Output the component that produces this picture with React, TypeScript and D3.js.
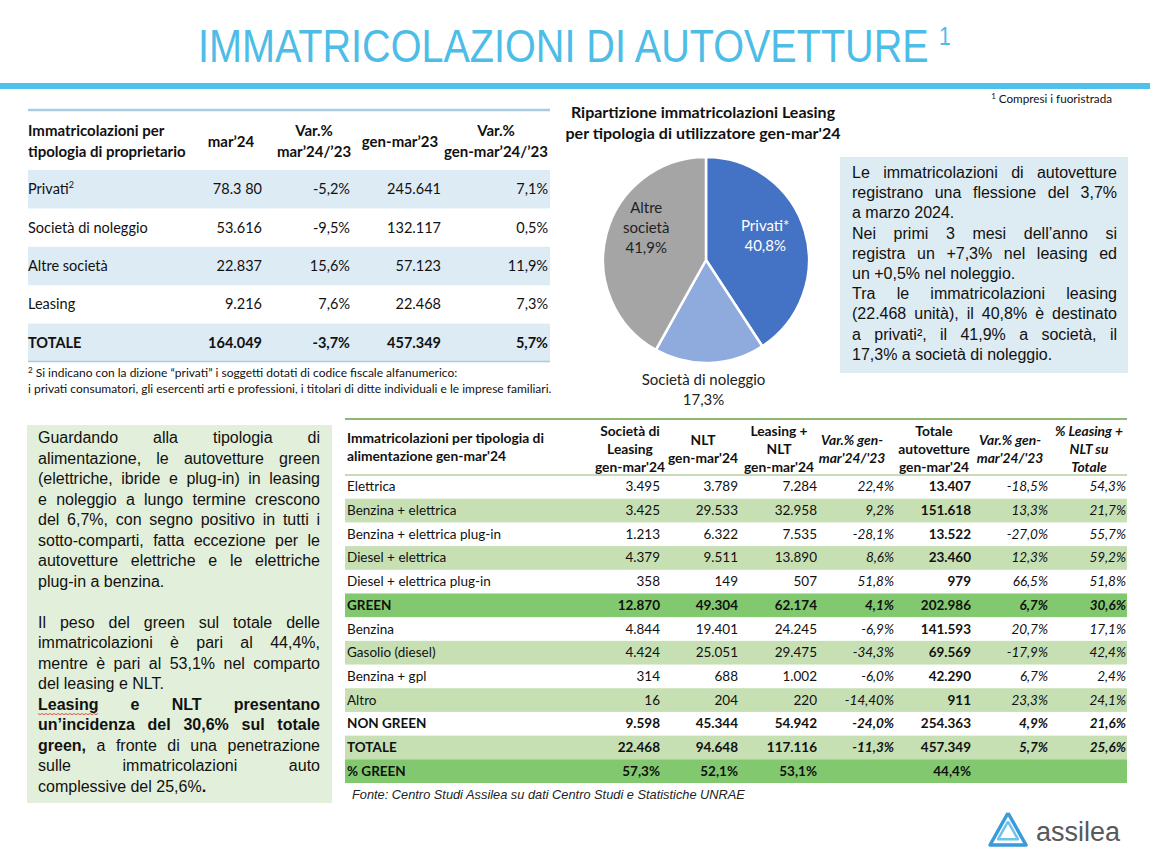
import React from "react";
import * as d3 from "d3";

const W = 1150;
const H = 856;

const titleText = "IMMATRICOLAZIONI DI AUTOVETTURE";

// ---------- Top table: by owner type ----------
const ownerCategories = ["Privati", "Società di noleggio", "Altre società", "Leasing", "TOTALE"];
const ownerMar24 = ["78.3 80", "53.616", "22.837", "9.216", "164.049"];
const ownerVarMar = ["-5,2%", "-9,5%", "15,6%", "7,6%", "-3,7%"];
const ownerGenMar23 = ["245.641", "132.117", "57.123", "22.468", "457.349"];
const ownerVarGenMar = ["7,1%", "0,5%", "11,9%", "7,3%", "5,7%"];
const ownerHeaders = [["mar’24"], ["Var.%", "mar’24/’23"], ["gen-mar’23"], ["Var.%", "gen-mar’24/’23"]];

// ---------- Pie ----------
const pieLabels = [["Privati*"], ["Società di noleggio"], ["Altre", "società"]];
const pieValues = [40.8, 17.3, 41.9];
const pieValueLabels = ["40,8%", "17,3%", "41,9%"];
const pieColors = ["#4472C4", "#8FAADC", "#A5A5A5"];

// ---------- Bottom table: by fuel ----------
const fuelCategories = [
  "Elettrica", "Benzina + elettrica", "Benzina + elettrica plug-in", "Diesel + elettrica",
  "Diesel + elettrica plug-in", "GREEN", "Benzina", "Gasolio (diesel)", "Benzina + gpl",
  "Altro", "NON GREEN", "TOTALE", "% GREEN",
];
const fuelLeasing = ["3.495", "3.425", "1.213", "4.379", "358", "12.870", "4.844", "4.424", "314", "16", "9.598", "22.468", "57,3%"];
const fuelNLT = ["3.789", "29.533", "6.322", "9.511", "149", "49.304", "19.401", "25.051", "688", "204", "45.344", "94.648", "52,1%"];
const fuelLeasingNLT = ["7.284", "32.958", "7.535", "13.890", "507", "62.174", "24.245", "29.475", "1.002", "220", "54.942", "117.116", "53,1%"];
const fuelVarLN = ["22,4%", "9,2%", "-28,1%", "8,6%", "51,8%", "4,1%", "-6,9%", "-34,3%", "-6,0%", "-14,40%", "-24,0%", "-11,3%", ""];
const fuelTotal = ["13.407", "151.618", "13.522", "23.460", "979", "202.986", "141.593", "69.569", "42.290", "911", "254.363", "457.349", "44,4%"];
const fuelVarTotal = ["-18,5%", "13,3%", "-27,0%", "12,3%", "66,5%", "6,7%", "20,7%", "-17,9%", "6,7%", "23,3%", "4,9%", "5,7%", ""];
const fuelShare = ["54,3%", "21,7%", "55,7%", "59,2%", "51,8%", "30,6%", "17,1%", "42,4%", "2,4%", "24,1%", "21,6%", "25,6%", ""];
const fuelHeaders = [
  ["Società di", "Leasing", "gen-mar'24"],
  ["NLT", "gen-mar'24"],
  ["Leasing +", "NLT", "gen-mar'24"],
  ["Var.% gen-", "mar'24/'23"],
  ["Totale", "autovetture", "gen-mar'24"],
  ["Var.% gen-", "mar'24/'23"],
  ["% Leasing +", "NLT su", "Totale"],
];
const fuelBandLight = ["Benzina + elettrica", "Diesel + elettrica", "Gasolio (diesel)", "Altro", "TOTALE"];
const fuelBandDark = ["GREEN", "% GREEN"];
const fuelBoldRows = ["GREEN", "NON GREEN", "TOTALE", "% GREEN"];

// ---------- Text boxes ----------
const rightBoxLines = [
  ["Le immatricolazioni di autovetture", true],
  ["registrano una flessione del 3,7%", true],
  ["a marzo 2024.", false],
  ["Nei primi 3 mesi dell’anno si", true],
  ["registra un +7,3% nel leasing ed", true],
  ["un +0,5% nel noleggio.", false],
  ["Tra le immatricolazioni leasing", true],
  ["(22.468 unità), il 40,8% è destinato", true],
  ["a privati², il 41,9% a società, il", true],
  ["17,3% a società di noleggio.", false],
];
const leftBoxLines = [
  ["Guardando alla tipologia di", true],
  ["alimentazione, le autovetture green", true],
  ["(elettriche, ibride e plug-in) in leasing", true],
  ["e noleggio a lungo termine crescono", true],
  ["del 6,7%, con segno positivo in tutti i", true],
  ["sotto-comparti, fatta eccezione per le", true],
  ["autovetture elettriche e le elettriche", true],
  ["plug-in a  benzina.", false],
  ["", false],
  ["Il peso del green sul totale delle", true],
  ["immatricolazioni è pari al 44,4%,", true],
  ["mentre è pari al 53,1% nel comparto", true],
  ["del leasing e NLT.", false],
  ["**Leasing e NLT presentano**", true],
  ["**un’incidenza del 30,6% sul totale**", true],
  ["**green,** a fronte di una penetrazione", true],
  ["sulle immatricolazioni auto", true],
  ["complessive del 25,6%**.**", false],
];

const SANS = "'Liberation Sans', Arial, Helvetica, sans-serif";
const CAL = "Lato, Carlito, Calibri, 'Open Sans', sans-serif";

let _ctx: CanvasRenderingContext2D | null = null;
function measure(t: string, bold: boolean, size: number) {
  if (!_ctx) _ctx = document.createElement("canvas").getContext("2d");
  if (!_ctx) return t.length * size * 0.5;
  _ctx.font = `${bold ? "bold " : ""}${size}px 'Liberation Sans', Arial, sans-serif`;
  return _ctx.measureText(t).width;
}

type Word = { t: string; b: boolean; glue?: boolean };
function parseLine(s: string): Word[] {
  const words: Word[] = [];
  let bold = false;
  s.split(" ").forEach((raw) => {
    if (raw === "") return;
    let t = raw;
    let wb = bold;
    if (t.startsWith("**")) { t = t.slice(2); wb = true; bold = true; }
    if (t.endsWith("**") && !t.slice(0, -2).includes("**")) { t = t.slice(0, -2); bold = false; words.push({ t, b: wb }); return; }
    if (t.includes("**")) {
      const parts = t.split("**");
      parts.forEach((p, i) => { if (p !== "") words.push({ t: p, b: i % 2 === 1 ? true : wb, glue: i > 0 }); });
      return;
    }
    words.push({ t, b: wb });
  });
  return words;
}

function Justified({ lines, x, width, y0, lh, size, prefix }: any) {
  const out: any[] = [];
  lines.forEach(([s, justify]: [string, boolean], i: number) => {
    const y = y0 + i * lh;
    const words = parseLine(s);
    if (!words.length) return;
    const groups: Word[][] = [];
    words.forEach((w) => {
      if (w.glue && groups.length) groups[groups.length - 1].push(w);
      else groups.push([w]);
    });
    const gw = groups.map((g) => d3.sum(g, (w) => measure(w.t, w.b, size)));
    const sum = d3.sum(gw);
    const space = measure(" ", false, size);
    const gap = justify && groups.length > 1 ? (width - sum) / (groups.length - 1) : space;
    let cx = x;
    groups.forEach((g, j) => {
      let px = cx;
      g.forEach((w, k) => {
        out.push(
          <text key={`${prefix}-${i}-${j}-${k}`} x={px} y={y} fontFamily={SANS} fontSize={size}
            fontWeight={w.b ? 700 : 400} fill="#111">{w.t}</text>
        );
        if (prefix === "L" && i === 13 && j === 0) {
          const ww = measure(w.t, true, size);
          const pts: string[] = [];
          for (let q = 0; q <= ww; q += 2) pts.push(`${px + q},${y + 4 + (Math.round(q / 2) % 2 ? 1.2 : 0)}`);
          out.push(<polyline key={`wave-${i}`} points={pts.join(" ")} fill="none" stroke="#E03030" strokeWidth={0.8} />);
        }
        px += measure(w.t, w.b, size);
      });
      cx += gw[j] + gap;
    });
  });
  return <g>{out}</g>;
}

function OwnerTable() {
  const y = d3.scaleBand<string>().domain(ownerCategories).range([170, 362]);
  const colRight = [262, 350, 441, 548];
  const colCenter = [231, 314, 400, 496];
  const cols = [ownerMar24, ownerVarMar, ownerGenMar23, ownerVarGenMar];
  const fs = 14.5;
  return (
    <g fontFamily={CAL} fill="#111">
      {ownerCategories.map((c, i) =>
        i % 2 === 0 ? (
          <rect key={c} x={28} y={y(c)!} width={522} height={y.bandwidth()} fill="#DDEBF5" />
        ) : null
      )}
      <line x1={28} x2={550} y1={110} y2={110} stroke="#A9CDE0" strokeWidth={2.5} />
      <line x1={28} x2={550} y1={361.5} y2={361.5} stroke="#A9CDE0" strokeWidth={1.5} />
      <text x={28} y={136} fontSize={15} fontWeight={700}>Immatricolazioni per</text>
      <text x={28} y={157} fontSize={15} fontWeight={700}>tipologia di proprietario</text>
      {ownerHeaders.map((h, j) =>
        h.map((t, k) => (
          <text key={`h${j}${k}`} x={colCenter[j]} y={h.length === 1 ? 147 : 136 + k * 21}
            fontSize={15} fontWeight={700} textAnchor="middle">{t}</text>
        ))
      )}
      {ownerCategories.map((c, i) => {
        const ty = y(c)! + y.bandwidth() / 2 + 5;
        const bold = c === "TOTALE";
        return (
          <g key={c} fontWeight={bold ? 700 : 400}>
            <text x={28} y={ty} fontSize={fs}>
              {c}
              {c === "Privati" ? <tspan fontSize={9} dy={-6}>2</tspan> : null}
            </text>
            {cols.map((col, j) => (
              <text key={j} x={colRight[j]} y={ty} fontSize={fs} textAnchor="end">{col[i]}</text>
            ))}
          </g>
        );
      })}
      <text x={28} y={377} fontSize={12}>
        <tspan fontSize={8} dy={-4}>2</tspan>
        <tspan dy={4}> Si indicano con la dizione “privati” i soggetti dotati di codice fiscale alfanumerico:</tspan>
      </text>
      <text x={28} y={393} fontSize={12}>
        i privati consumatori, gli esercenti arti e professioni, i titolari di ditte individuali e le imprese familiari.
      </text>
    </g>
  );
}

function LeasingPie() {
  const cx = 706, cy = 260, r = 103;
  const pie = d3.pie<number>().sort(null).value((d) => d)(pieValues);
  const arc = d3.arc<d3.PieArcDatum<number>>().innerRadius(0).outerRadius(r);
  const lab = d3.arc<d3.PieArcDatum<number>>().innerRadius(r * 0.6).outerRadius(r * 0.6);
  const outLab = d3.arc<d3.PieArcDatum<number>>().innerRadius(r + 27).outerRadius(r + 27);
  const labelDy = [-6, 0, -16];
  return (
    <g fontFamily={CAL}>
      <text x={703} y={118} fontSize={16} fontWeight={700} textAnchor="middle" fill="#111">
        Ripartizione immatricolazioni Leasing
      </text>
      <text x={703} y={139} fontSize={16} fontWeight={700} textAnchor="middle" fill="#111">
        per tipologia di utilizzatore gen-mar'24
      </text>
      <g transform={`translate(${cx},${cy})`}>
        {pie.map((p, i) => (
          <path key={i} d={arc(p)!} fill={pieColors[i]} stroke="#fff" strokeWidth={2.5} />
        ))}
        {pie.map((p, i) => {
          const outside = i === 1;
          const [lx, ly0] = outside ? outLab.centroid(p) : lab.centroid(p);
          const lines = [...pieLabels[i], pieValueLabels[i]];
          const ly = ly0 + labelDy[i] - ((lines.length - 1) * 20) / 2;
          return (
            <g key={`l${i}`}>
              {lines.map((t, k) => (
                <text key={k} x={outside ? lx - 7 : lx} y={ly + k * 20 + 5} fontSize={15} textAnchor="middle"
                  fill={i === 0 ? "#fff" : "#222"}>{t}</text>
              ))}
            </g>
          );
        })}
      </g>
    </g>
  );
}

function FuelTable() {
  const y = d3.scaleBand<string>().domain(fuelCategories).range([475, 783]);
  const colRight = [660, 738, 817, 894, 971, 1048, 1126];
  const colCenter = [630, 703, 779, 852, 934, 1010, 1089];
  const cols = [fuelLeasing, fuelNLT, fuelLeasingNLT, fuelVarLN, fuelTotal, fuelVarTotal, fuelShare];
  const italicCols = [3, 5, 6];
  const fs = 13.5;
  const x0 = 345, x1 = 1127;
  return (
    <g fontFamily={CAL} fill="#111">
      {fuelCategories.map((c) => {
        const fill = fuelBandDark.includes(c) ? "#82C86F" : fuelBandLight.includes(c) ? "#C6E0B4" : null;
        return fill ? <rect key={c} x={x0} y={y(c)!} width={x1 - x0} height={y.bandwidth()} fill={fill} /> : null;
      })}
      <line x1={x0} x2={x1} y1={419} y2={419} stroke="#8DB872" strokeWidth={2} />
      <line x1={x0} x2={x1} y1={475} y2={475} stroke="#8DB872" strokeWidth={1} />
      <text x={347} y={443} fontSize={13.8} fontWeight={700}>Immatricolazioni per tipologia di</text>
      <text x={347} y={461} fontSize={13.8} fontWeight={700}>alimentazione gen-mar'24</text>
      {fuelHeaders.map((h, j) =>
        h.map((t, k) => (
          <text key={`fh${j}${k}`} x={colCenter[j]} y={(h.length === 3 ? 436 : 445) + k * 18} fontSize={13.8}
            fontWeight={700} fontStyle={italicCols.includes(j) ? "italic" : "normal"} textAnchor="middle">{t}</text>
        ))
      )}
      {fuelCategories.map((c, i) => {
        const ty = y(c)! + y.bandwidth() / 2 + 4.5;
        const bold = fuelBoldRows.includes(c);
        return (
          <g key={c}>
            <text x={347} y={ty} fontSize={fs} fontWeight={bold ? 700 : 400}>{c}</text>
            {cols.map((col, j) => (
              <text key={j} x={colRight[j]} y={ty} fontSize={fs} textAnchor="end"
                fontWeight={bold || j === 4 ? 700 : 400}
                fontStyle={italicCols.includes(j) && c !== "% GREEN" ? "italic" : "normal"}>{col[i]}</text>
            ))}
          </g>
        );
      })}
      <text x={352} y={799} fontFamily={SANS} fontSize={12.8} fontStyle="italic" fill="#222">
        Fonte: Centro Studi Assilea su dati Centro Studi e Statistiche UNRAE
      </text>
    </g>
  );
}

function Logo() {
  const tri = (s: number) => {
    const cx = 1008, cy = 832;
    return d3.line()([
      [cx, cy - 19 * s],
      [cx + 18 * s, cy + 13 * s],
      [cx - 18 * s, cy + 13 * s],
      [cx, cy - 19 * s],
    ])!;
  };
  return (
    <g>
      <path d={tri(1)} fill="none" stroke="#3A9BD9" strokeWidth={3.5} strokeLinejoin="round" />
      <path d={tri(0.55)} fill="none" stroke="#6CC3EE" strokeWidth={2.5} strokeLinejoin="round" />
      <text x={1036} y={841} fontFamily={SANS} fontSize={27} fill="#58595B">assilea</text>
    </g>
  );
}

export default function App() {
  const titleSize = 47;
  const natural = measure(titleText, false, titleSize);
  const sx = 733 / natural;
  return (
    <svg width={W} height={H} viewBox={`0 0 ${W} ${H}`}
      style={{ position: "absolute", left: 0, top: 0, background: "#fff" }}>
      <rect width={W} height={H} fill="#fff" />
      <g transform={`translate(198,62) scale(${sx},1)`}>
        <text x={0} y={0} fontFamily={SANS} fontSize={titleSize} fill="#4DBDE8">{titleText}</text>
      </g>
      <g transform={`translate(939,45) scale(${sx},1)`}>
        <text x={0} y={0} fontFamily={SANS} fontSize={25} fill="#4DBDE8">1</text>
      </g>
      <rect x={0} y={83} width={W} height={6} fill="#4FC1EC" />
      <text x={1112} y={103} fontFamily={CAL} fontSize={11.7} textAnchor="end" fill="#111">
        <tspan fontSize={8} dy={-4}>1</tspan>
        <tspan dy={4}> Compresi i fuoristrada</tspan>
      </text>

      <OwnerTable />
      <LeasingPie />

      <rect x={840} y={157} width={288} height={216} fill="#DDEBF3" />
      <Justified prefix="R" lines={rightBoxLines} x={852} width={265} y0={178} lh={20.2} size={16} />

      <rect x={27} y={425} width={305} height={378} fill="#E2EFDA" />
      <Justified prefix="L" lines={leftBoxLines} x={38} width={282} y0={443} lh={20.5} size={16} />

      <FuelTable />
      <Logo />
    </svg>
  );
}
